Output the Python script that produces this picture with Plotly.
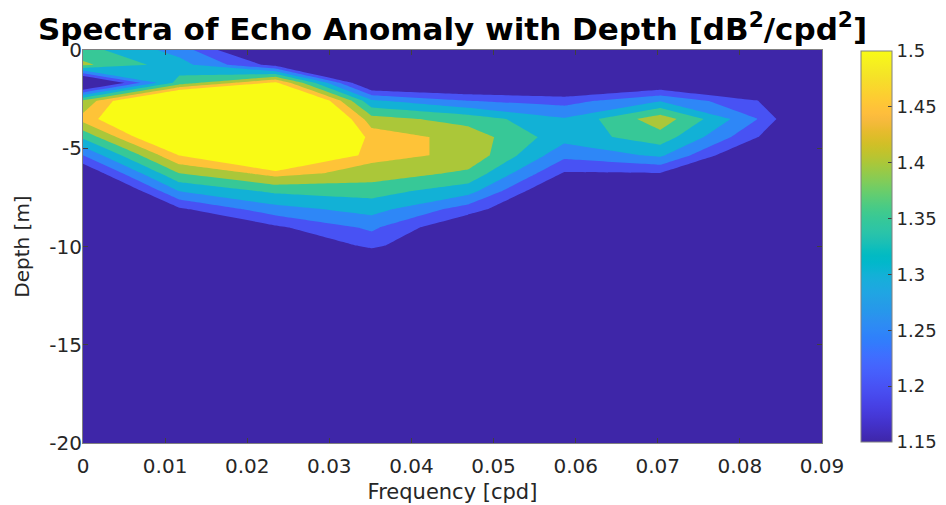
import plotly.graph_objects as go

# ---------------- data ----------------
freq = [0.0, 0.01172, 0.02344, 0.03516, 0.04688, 0.05859, 0.07031, 0.08203, 0.09375]
depth = [0.0, -0.75, -1.67, -2.59, -3.51, -4.43, -5.35, -6.27, -7.19, -8.11,
         -9.03, -9.95, -10.87, -11.79, -20.0]

# spectral level at each depth (top to bottom) for each frequency column
spec_f0 = [1.37, 1.41, 1.07, 1.41, 1.47, 1.36, 1.25, 1.145, 1.04, 1.04, 1.04, 1.04, 1.04, 1.04, 1.04]
spec_f1 = [1.28, 1.32, 1.37, 1.70, 1.66, 1.62, 1.502, 1.40, 1.30, 1.19, 1.12, 1.11, 1.10, 1.10, 1.10]
spec_f2 = [1.08, 1.18, 1.51, 1.75, 1.80, 1.78, 1.72, 1.47, 1.36, 1.28, 1.19, 1.12, 1.11, 1.10, 1.10]
spec_f3 = [1.08, 1.09, 1.12, 1.31, 1.42, 1.48, 1.465, 1.43, 1.37, 1.32, 1.26, 1.215, 1.12, 1.10, 1.10]
spec_f4 = [1.08, 1.08, 1.11, 1.252, 1.38, 1.43, 1.44, 1.39, 1.32, 1.225, 1.14, 1.11, 1.10, 1.10, 1.10]
spec_f5 = [1.07, 1.07, 1.10, 1.23, 1.305, 1.32, 1.265, 1.195, 1.12, 1.10, 1.10, 1.10, 1.10, 1.10, 1.10]
spec_f6 = [1.07, 1.08, 1.14, 1.298, 1.43, 1.38, 1.31, 1.198, 1.12, 1.10, 1.10, 1.10, 1.10, 1.10, 1.10]
spec_f7 = [1.06, 1.07, 1.10, 1.203, 1.252, 1.203, 1.12, 1.08, 1.07, 1.07, 1.07, 1.07, 1.07, 1.07, 1.07]
spec_f8 = [1.05, 1.05, 1.05, 1.05, 1.00, 1.05, 1.05, 1.05, 1.05, 1.05, 1.05, 1.05, 1.05, 1.05, 1.05]

x_ticks = [0, 0.01, 0.02, 0.03, 0.04, 0.05, 0.06, 0.07, 0.08, 0.09]
x_ticktext = ["0", "0.01", "0.02", "0.03", "0.04", "0.05", "0.06", "0.07", "0.08", "0.09"]
y_ticks = [-20, -15, -10, -5, 0]
y_ticktext = ["-20", "-15", "-10", "-5", "0"]
cb_ticks = [1.15, 1.2, 1.25, 1.3, 1.35, 1.4, 1.45, 1.5]
cb_ticktext = ["1.15", "1.2", "1.25", "1.3", "1.35", "1.4", "1.45", "1.5"]

columns = [spec_f0, spec_f1, spec_f2, spec_f3, spec_f4, spec_f5, spec_f6, spec_f7, spec_f8]
z = [[col[i] for col in columns] for i in range(len(depth))]

# MATLAB parula colormap (64 entries)
parula_rgb = [
    (0.2422, 0.1504, 0.6603), (0.2504, 0.1650, 0.7076), (0.2578, 0.1818, 0.7511), (0.2647, 0.1978, 0.7952),
    (0.2706, 0.2147, 0.8364), (0.2751, 0.2342, 0.8710), (0.2783, 0.2559, 0.8991), (0.2803, 0.2782, 0.9221),
    (0.2813, 0.3006, 0.9414), (0.2810, 0.3228, 0.9579), (0.2795, 0.3447, 0.9717), (0.2760, 0.3667, 0.9829),
    (0.2699, 0.3892, 0.9906), (0.2602, 0.4123, 0.9952), (0.2440, 0.4358, 0.9988), (0.2206, 0.4603, 0.9973),
    (0.1963, 0.4847, 0.9892), (0.1834, 0.5074, 0.9798), (0.1786, 0.5289, 0.9682), (0.1764, 0.5499, 0.9520),
    (0.1687, 0.5703, 0.9359), (0.1540, 0.5902, 0.9218), (0.1460, 0.6091, 0.9079), (0.1380, 0.6276, 0.8973),
    (0.1248, 0.6459, 0.8883), (0.1113, 0.6635, 0.8763), (0.0952, 0.6798, 0.8598), (0.0689, 0.6948, 0.8394),
    (0.0297, 0.7082, 0.8163), (0.0036, 0.7203, 0.7917), (0.0067, 0.7312, 0.7660), (0.0433, 0.7411, 0.7394),
    (0.0964, 0.7500, 0.7120), (0.1408, 0.7584, 0.6842), (0.1717, 0.7670, 0.6554), (0.1938, 0.7758, 0.6251),
    (0.2161, 0.7843, 0.5923), (0.2470, 0.7918, 0.5567), (0.2906, 0.7973, 0.5188), (0.3406, 0.8008, 0.4789),
    (0.3909, 0.8029, 0.4354), (0.4456, 0.8024, 0.3909), (0.5044, 0.7993, 0.3480), (0.5616, 0.7942, 0.3045),
    (0.6174, 0.7876, 0.2612), (0.6720, 0.7793, 0.2227), (0.7242, 0.7698, 0.1910), (0.7738, 0.7598, 0.1646),
    (0.8203, 0.7498, 0.1535), (0.8634, 0.7406, 0.1596), (0.9035, 0.7330, 0.1774), (0.9393, 0.7288, 0.2100),
    (0.9728, 0.7298, 0.2394), (0.9956, 0.7434, 0.2371), (0.9970, 0.7659, 0.2199), (0.9952, 0.7893, 0.2028),
    (0.9892, 0.8136, 0.1885), (0.9786, 0.8386, 0.1766), (0.9676, 0.8639, 0.1643), (0.9610, 0.8890, 0.1537),
    (0.9597, 0.9135, 0.1423), (0.9628, 0.9373, 0.1265), (0.9691, 0.9606, 0.1064), (0.9769, 0.9839, 0.0805),
]
n = len(parula_rgb)
parula = [[i / (n - 1), "rgb(%d,%d,%d)" % tuple(round(c * 255) for c in rgb)]
          for i, rgb in enumerate(parula_rgb)]

FONT = "DejaVu Sans"
TXT = "#262626"

# the page body has an 8px margin, so the figure is 8px smaller than the window
W, H = 938, 497

fig = go.Figure()
fig.add_trace(go.Contour(
    x=freq, y=depth, z=z,
    colorscale=parula,
    contours=dict(start=1.2, end=1.5, size=0.05, coloring="fill", showlines=False),
    line=dict(width=0, smoothing=0),
    showscale=False,
    hoverinfo="skip",
))

# continuous colorbar, as in the reference
fig.add_trace(go.Scatter(
    x=[0.05], y=[-15], mode="markers",
    marker=dict(size=1, opacity=0, color=[1.3], colorscale=parula, cmin=1.15, cmax=1.5,
                showscale=True,
                colorbar=dict(
                    x=(861 - 83) / 739, xanchor="left", xpad=0,
                    y=0.5, yanchor="middle", ypad=0,
                    len=391, lenmode="pixels", thickness=31,
                    outlinewidth=1, outlinecolor="#808080",
                    tickvals=cb_ticks, ticktext=cb_ticktext,
                    ticks="inside", ticklen=4, tickcolor="#404040",
                    tickfont=dict(family=FONT, size=18, color=TXT),
                )),
    hoverinfo="skip", showlegend=False,
))

fig.update_layout(
    width=W, height=H,
    margin=dict(l=75, r=124, t=42, b=62, autoexpand=False),
    paper_bgcolor="white", plot_bgcolor="white",
    showlegend=False,
    title=dict(
        text="Spectra of Echo Anomaly with Depth [dB<sup>2</sup>/cpd<sup>2</sup>]",
        font=dict(family=FONT, size=31, color="black", weight="bold"),
        x=0.5, xref="paper", xanchor="center",
        y=1 - 21 / H, yref="container", yanchor="middle",
    ),
    xaxis=dict(
        range=[0, 0.09], tickvals=x_ticks, ticktext=x_ticktext,
        ticks="inside", ticklen=5, tickcolor="#404040", mirror="ticks",
        showline=True, linecolor="#808080", linewidth=1,
        showgrid=False, zeroline=False, automargin=False,
        tickfont=dict(family=FONT, size=20, color=TXT),
        ticklabelstandoff=5,
        title=dict(text="Frequency [cpd]", font=dict(family=FONT, size=21, color=TXT), standoff=7),
    ),
    yaxis=dict(
        range=[-20, 0], tickvals=y_ticks, ticktext=y_ticktext,
        ticks="inside", ticklen=5, tickcolor="#404040", mirror="ticks",
        showline=True, linecolor="#808080", linewidth=1,
        showgrid=False, zeroline=False, automargin=False,
        tickfont=dict(family=FONT, size=20, color=TXT),
        ticklabelstandoff=-4,
        title=dict(text="Depth [m]", font=dict(family=FONT, size=20, color=TXT), standoff=14),
    ),
)

fig.write_html("out.html")
